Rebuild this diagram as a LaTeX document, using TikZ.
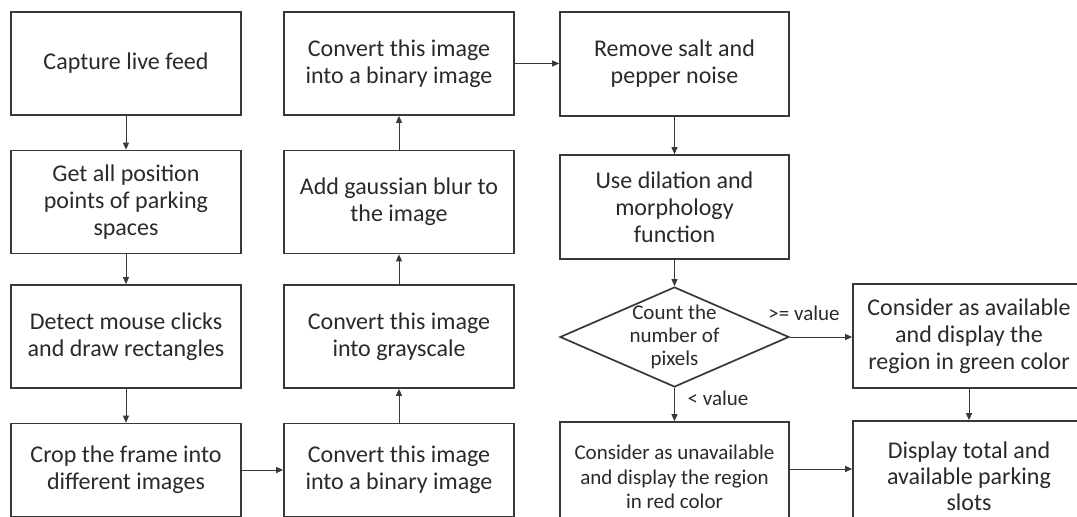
\documentclass[tikz,border=0pt]{standalone}
\usepackage{fontspec}
\setmainfont{Carlito}
\usetikzlibrary{shapes.geometric, arrows.meta, positioning, calc}
\definecolor{linegray}{HTML}{383838}
\definecolor{textgray}{HTML}{2A2A2A}

\begin{document}
\begin{tikzpicture}[x=1pt, y=-1pt,
    stepbox/.style={draw=linegray, line width=1.7pt, rectangle, align=center,
        text=textgray, font=\fontsize{24}{27}\selectfont,
        minimum width=230pt, minimum height=103pt, inner sep=2pt},
    smallbox/.style={stepbox, font=\fontsize{21}{24.5}\selectfont},
    decision/.style={draw=linegray, line width=1.7pt, diamond, inner sep=0pt,
        minimum width=229pt, minimum height=100pt},
    flow/.style={draw=linegray, line width=0.9pt, -{Triangle[length=7pt,width=6pt]}},
    cond/.style={text=textgray, font=\fontsize{21}{24}\selectfont}
]

% Page frame
\fill[white] (0,0) rectangle (1077,517);
\useasboundingbox (0,0) rectangle (1077,517);
\clip (0,0) rectangle (1077,517);

% Column 1: capture and crop
\node[stepbox] (cap) at (126,63.5) {Capture live feed};
\node[stepbox] (pos) at (126,202) {Get all position\\points of parking\\spaces};
\node[stepbox] (det) at (126,336.5) {Detect mouse clicks\\and draw rectangles};
\node[stepbox, minimum height=93pt] (crop) at (126,470) {Crop the frame into\\different images};

% Column 2: image conversion (bottom to top)
\node[stepbox, minimum height=93pt] (bin1) at (399,470) {Convert this image\\into a binary image};
\node[stepbox] (gray) at (399,336.5) {Convert this image\\into grayscale};
\node[stepbox] (blur) at (399,202) {Add gaussian blur to\\the image};
\node[stepbox] (bin2) at (399,63.5) {Convert this image\\into a binary image};

% Column 3: noise removal and decision
\node[stepbox, minimum width=229pt, minimum height=104pt] (salt) at (674.5,64) {Remove salt and\\pepper noise};
\node[stepbox, minimum width=229pt, minimum height=104pt] (dil) at (674.5,207) {Use dilation and\\morphology\\function};
\node[decision] (count) at (674.5,337) {};
\node[text=textgray, align=center, font=\fontsize{21}{23}\selectfont] (counttext) at (count.center) {Count the\\number of\\pixels};
\node[smallbox, minimum width=229pt, minimum height=110pt] (red) at (674.5,477) {Consider as unavailable\\and display the region\\in red color};

% Column 4: results
\node[stepbox, minimum width=232pt, minimum height=104pt] (avail) at (969,336) {Consider as available\\and display the\\region in green color};
\node[stepbox, minimum width=232pt, minimum height=110pt, font=\fontsize{24}{26}\selectfont] (show) at (969,476) {Display total and\\available parking\\slots};

% Connectors
\draw[flow] (cap) -- (pos);
\draw[flow] (pos) -- (det);
\draw[flow] (det) -- (crop);
\draw[flow] (crop) -- (bin1);
\draw[flow] (bin1) -- (gray);
\draw[flow] (gray) -- (blur);
\draw[flow] (blur) -- (bin2);
\draw[flow] (bin2.east) -- (bin2.east -| salt.west);
\draw[flow] (salt) -- (dil);
\draw[flow] (dil) -- (count);
\draw[flow] (count.east) -- (count.east -| avail.west);
\draw[flow] (count.south) -- (red.north);
\draw[flow] (avail) -- (show);
\draw[flow] ([yshift=8pt]red.east) -- ([yshift=8pt]red.east -| show.west);

% Branch labels
\node[cond] (ge) at (804,313) {>= value};
\node[cond] (lt) at (718,398) {< value};

\end{tikzpicture}
\end{document}
